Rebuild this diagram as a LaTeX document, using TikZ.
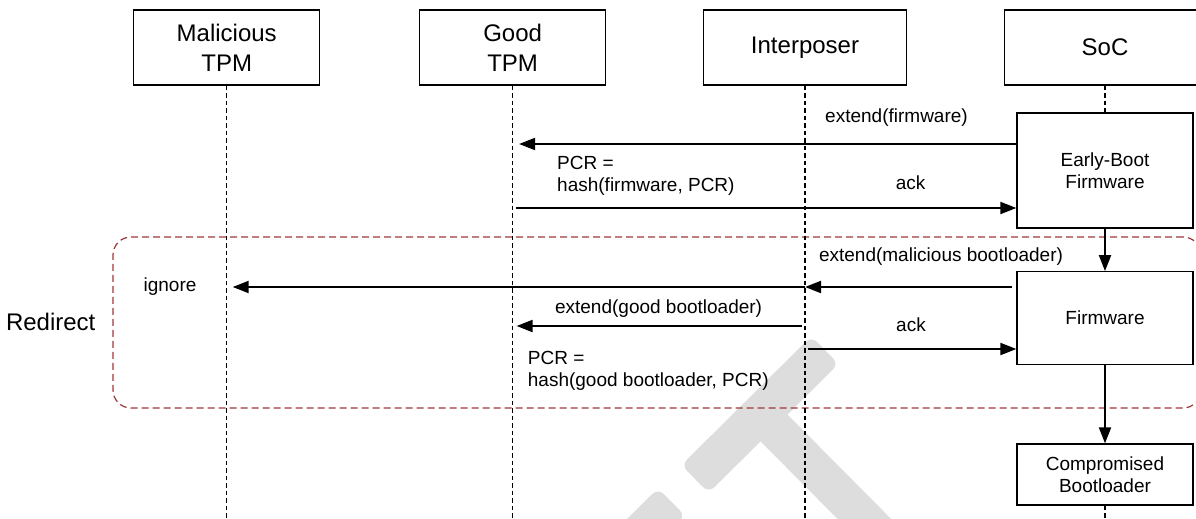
\documentclass[tikz,border=0pt]{standalone}
\usepackage{fontspec}
\setmainfont{Liberation Sans}
\usetikzlibrary{arrows.meta}
\definecolor{redbox}{RGB}{160,55,55}
\definecolor{wm}{RGB}{221,221,221}
\begin{document}
\begin{tikzpicture}[x=1pt,y=-1pt,
  box/.style={draw=black, line width=1.3pt, fill=white, inner sep=0pt, align=center},
  big/.style={font=\fontsize{24}{30}\selectfont},
  small/.style={font=\fontsize{19}{22}\selectfont},
  lifeline/.style={draw=black, line width=1.2pt, dash pattern=on 4.5pt off 3pt},
  msg/.style={draw=black, line width=2pt, -{Triangle[length=16pt,width=12pt]}},
  lbl/.style={small, inner sep=0pt},
  wmark/.style={fill=wm, rounded corners=8pt},
]
\useasboundingbox (0,0) rectangle (1196,519);
\clip (0,0) rectangle (1196,519);

% watermark pieces
\fill[wmark] (811.3,336.2) -- (838.7,363.8) -- (708.7,492.8) -- (681.3,465.2) -- cycle;
\fill[wmark] (773.9,400.8) -- (914.7,542.7) -- (887.7,569.5) -- (746.9,427.6) -- cycle;
\fill[wmark] (658.0,488.3) -- (685.4,515.9) -- (611.6,589.1) -- (584.2,561.5) -- cycle;

% redirect frame
\node[draw=redbox, line width=1.2pt, dash pattern=on 7pt off 4pt, rounded corners=18pt,
      minimum width=1088pt, minimum height=171pt, inner sep=0pt] (redir) at (657,322.5) {};
\node[big, inner sep=0pt] (redlbl) at (50.7,322) {Redirect};

% participants
\node[box,big,minimum width=186pt,minimum height=75pt] (mal) at (226.7,47.5) {Malicious\\TPM};
\node[box,big,minimum width=186pt,minimum height=75pt] (good) at (512.6,47.5) {Good\\TPM};
\node[box,big,minimum width=203pt,minimum height=75pt] (inter) at (805,47.5) {Interposer};
\node[box,big,minimum width=201pt,minimum height=75pt] (soc) at (1105,47.5) {SoC};

% lifelines
\draw[lifeline] (mal.south) -- (mal.south |- 0,519);
\draw[lifeline] (good.south) -- (good.south |- 0,519);
\draw[lifeline] (inter.south) -- (inter.south |- 0,519);

% activation boxes
\node[box,small,minimum width=176pt,minimum height=115pt] (ebf) at (1105,170.5) {Early-Boot\\Firmware};
\node[box,small,minimum width=176pt,minimum height=92.5pt] (fw) at (1105,318) {Firmware};
\node[box,small,minimum width=176pt,minimum height=61pt] (cb) at (1105,474.5) {Compromised\\Bootloader};

\draw[lifeline] (soc.south) -- (ebf.north);
\draw[lifeline] (cb.south) -- (cb.south |- 0,519);

\draw[msg] (ebf.south) -- (fw.north);
\draw[msg] (fw.south) -- (cb.north);

% messages
\draw[msg, shorten >=6.5pt] (ebf.west |- 0,144) -- (good.south |- 0,144);
\node[lbl] (l1) at (896.5,118) {extend(firmware)};
\node[lbl, align=left, anchor=west] (pcr1) at (557,176) {PCR =\\hash(firmware, PCR)};
\draw[msg, shorten <=3.5pt] (good.south |- 0,208) -- (ebf.west |- 0,208);
\node[lbl] (ack1) at (910.7,183) {ack};

\draw[msg, shorten <=4pt] (fw.west |- 0,287) -- (inter.south |- 0,287);
\node[lbl] (l3) at (941,257) {extend(malicious bootloader)};
\draw[msg, shorten >=6pt] (inter.south |- 0,287) -- (mal.south |- 0,287);
\node[lbl] (ign) at (170,287) {ignore};

\draw[msg, shorten <=3pt, shorten >=4pt] (inter.south |- 0,326) -- (good.south |- 0,326);
\node[lbl] (l4) at (658.6,308.3) {extend(good bootloader)};
\draw[msg, shorten <=3pt] (inter.south |- 0,349) -- (fw.west |- 0,349);
\node[lbl] (ack2) at (911,325) {ack};
\node[lbl, align=left, anchor=west] (pcr2) at (527.7,370.5) {PCR =\\hash(good bootloader, PCR)};
\end{tikzpicture}
\end{document}
